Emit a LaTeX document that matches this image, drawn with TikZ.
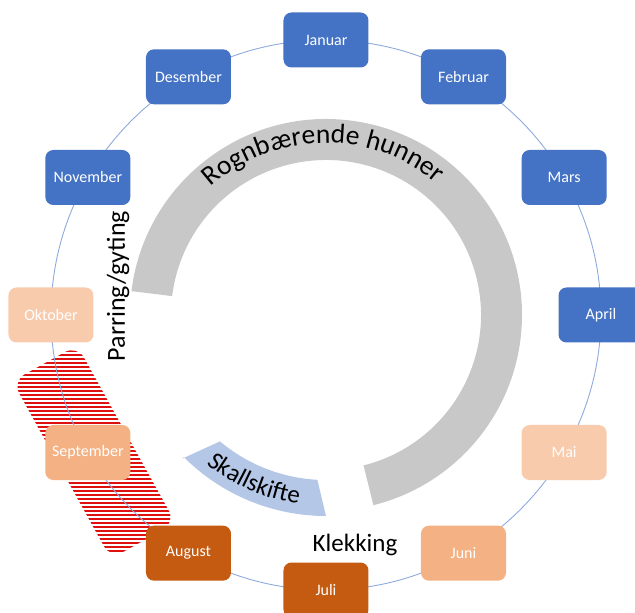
\documentclass[tikz,border=0pt]{standalone}
\usepackage{fontspec}
\setmainfont{Carlito}
\usepackage{tikz}
\usetikzlibrary{decorations.text}
\definecolor{monthblue}{HTML}{4472C4}
\definecolor{palepeach}{HTML}{F8CBAD}
\definecolor{peach}{HTML}{F4B183}
\definecolor{rust}{HTML}{C55A11}
\definecolor{ringline}{HTML}{8FAADC}
\definecolor{roegray}{RGB}{200,200,200}
\definecolor{shellblue}{HTML}{B4C7E7}
\definecolor{hatchred}{RGB}{222,16,16}
\tikzset{
% month boxes on the ring
month/.style={rectangle, rounded corners=8pt, inner sep=0,
  minimum width=85pt, minimum height=55pt,
  text=white, font=\fontsize{16}{19}\selectfont},
hatchline/.style={draw=hatchred, line width=1.3pt}
}

\begin{document}
\begin{tikzpicture}[x=1pt, y=1pt]
  \useasboundingbox (-326,-298) rectangle (309,315);

  % red hatched band behind september
  \begin{scope}
    \clip[shift={(-232,-137)}, rotate=-61, rounded corners=14pt] (-101.5,-37) rectangle (101.5,37);
    \foreach \k in {0,...,56}
      \draw[hatchline] (-330,{-252+4*\k}) -- (-120,{-252+4*\k});
  \end{scope}

  \draw[ringline, line width=0.9pt] (0,0) circle[radius=275];

  % grey band
  \fill[roegray] (173:196) arc[start angle=173, end angle=-76, radius=196]
    -- (-76:155) arc[start angle=-76, end angle=173, radius=155] -- cycle;
  \path[decorate, decoration={text along path,
    text={|\fontsize{27.5}{32}\selectfont|Rognbærende hunner},
    text align=center, text color=black}]
    (150:172) arc[start angle=150, end angle=32, radius=172];

  % blue band
  \fill[shellblue] (-135:203) -- (-130:165) arc[start angle=-130, end angle=-93, radius=165]
    -- (-90:201) arc[start angle=-90, end angle=-135, radius=201] -- cycle;
  \path[decorate, decoration={text along path,
    text={|\fontsize{25}{29}\selectfont|Skallskifte},
    text align=center, text color=black}]
    (-134:191) arc[start angle=-134, end angle=-93, radius=191];

  \node[rotate=90, font=\fontsize{26}{30}\selectfont] (parring) at (-208,29) {Parring/gyting};
  \node[font=\fontsize{25}{30}\selectfont] (klekking) at (29,-230) {Klekking};

  \node[month, fill=monthblue] (jan) at (90:275) {Januar};
  \node[month, fill=monthblue] (feb) at (60:275) {Februar};
  \node[month, fill=monthblue] (mar) at (30:275) {Mars};
  \node[month, fill=monthblue] (apr) at (0:275) {April};
  \node[month, fill=palepeach] (mai) at (-30:275) {Mai};
  \node[month, fill=peach] (jun) at (-60:275) {Juni};
  \node[month, fill=rust] (jul) at (-90:275) {Juli};
  \node[month, fill=rust] (aug) at (-120:275) {August};
  \node[month, fill=peach] (sep) at (-150:275) {September};
  \node[month, fill=palepeach] (okt) at (180:275) {Oktober};
  \node[month, fill=monthblue] (nov) at (150:275) {November};
  \node[month, fill=monthblue] (des) at (120:275) {Desember};
\end{tikzpicture}
\end{document}
